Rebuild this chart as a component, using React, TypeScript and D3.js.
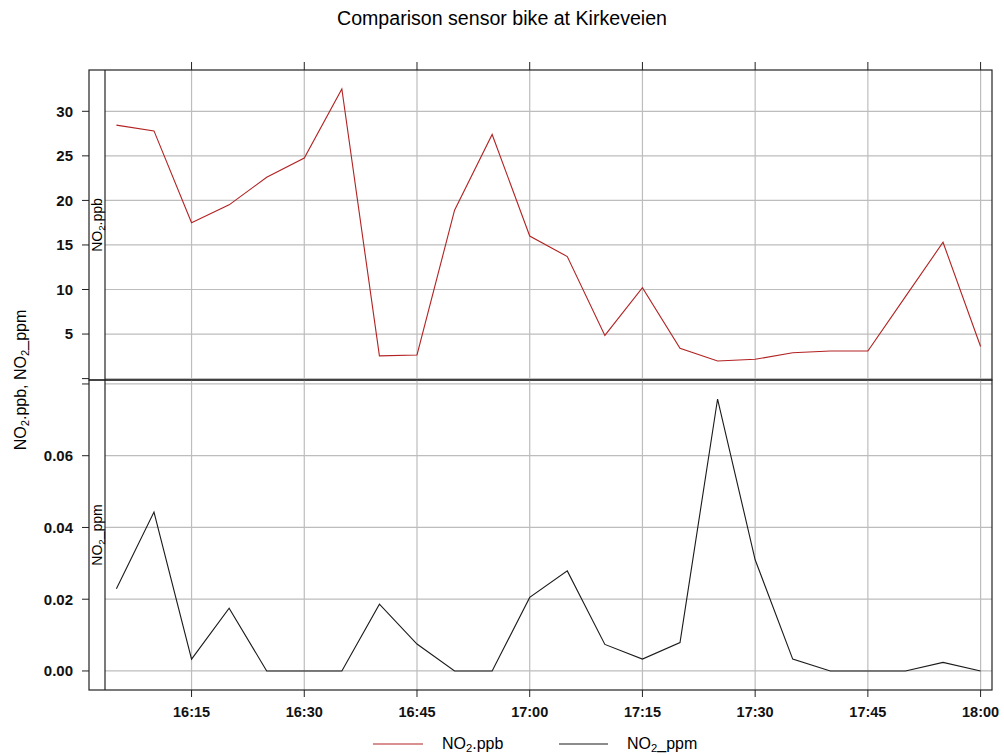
import React from "react";
import * as d3 from "d3";

// Five-minute readings, 16:05 to 18:00
const times = [
  "16:05", "16:10", "16:15", "16:20", "16:25", "16:30", "16:35", "16:40",
  "16:45", "16:50", "16:55", "17:00", "17:05", "17:10", "17:15", "17:20",
  "17:25", "17:30", "17:35", "17:40", "17:45", "17:50", "17:55", "18:00",
];
const no2Ppb = [
  28.45, 27.8, 17.5, 19.5, 22.6, 24.75, 32.5, 2.55,
  2.65, 18.9, 27.4, 16.0, 13.7, 4.85, 10.2, 3.4,
  1.98, 2.17, 2.9, 3.1, 3.1, 9.2, 15.3, 3.6,
];
const no2Ppm = [
  0.0229, 0.0443, 0.0033, 0.0175, 0.0, 0.0, 0.0, 0.0186,
  0.0075, 0.0, 0.0, 0.0205, 0.0279, 0.0074, 0.0033, 0.0079,
  0.0758, 0.031, 0.0033, 0.0, 0.0, 0.0, 0.0024, 0.0,
];
const ppbTicks = [0, 5, 10, 15, 20, 25, 30];
const ppbLabelled = [5, 10, 15, 20, 25, 30];
const ppmTicks = [0, 0.02, 0.04, 0.06, 0.08];
const ppmLabelled = [0, 0.02, 0.04, 0.06];
const xTickTimes = ["16:15", "16:30", "16:45", "17:00", "17:15", "17:30", "17:45", "18:00"];

const title = "Comparison sensor bike at Kirkeveien";
const seriesColors = { ppb: "#b22222", ppm: "#1a1a1a" };

const toDate = (hm: string) => {
  const [h, m] = hm.split(":").map(Number);
  return new Date(Date.UTC(2020, 0, 1, h, m));
};

const FONT = "'Liberation Sans', Arial, sans-serif";

// Chemical-formula label with a subscript 2
function NO2Label({ suffix }: { suffix: string }) {
  return (
    <>
      <tspan>NO</tspan>
      <tspan fontSize="0.7em" dy="0.3em">2</tspan>
      <tspan dy="-0.21em">{suffix}</tspan>
    </>
  );
}

export default function App() {
  const W = 1004, H = 756;
  const frameLeft = 89, stripRight = 105, right = 992;
  const top = 70, mid = 380, bottom = 690;

  const dates = times.map(toDate);
  const [t0, t1] = d3.extent(dates) as [Date, Date];
  const span = +t1 - +t0;
  const xPad = span * 0.0132;
  const x = d3.scaleUtc()
    .domain([new Date(+t0 - xPad), new Date(+t1 + xPad)])
    .range([stripRight, right]);

  // lattice-style 7% extension of the data range
  const padded = (vals: number[]) => {
    const [lo, hi] = d3.extent(vals) as [number, number];
    const p = (hi - lo) * 0.07;
    return [lo - p, hi + p];
  };
  const yPpb = d3.scaleLinear().domain(padded(no2Ppb)).range([mid, top]);
  const yPpm = d3.scaleLinear().domain(padded(no2Ppm)).range([bottom, mid]);

  const linePpb = d3.line<number>().x((_, i) => x(dates[i])).y((v) => yPpb(v));
  const linePpm = d3.line<number>().x((_, i) => x(dates[i])).y((v) => yPpm(v));

  const xTicks = xTickTimes.map(toDate);
  const fmt = d3.utcFormat("%H:%M");
  const grid = "#bdbdbd";
  const frame = "#222";

  const panels = [
    { y: yPpb, ticks: ppbTicks, labelled: ppbLabelled, fmt: (v: number) => String(v), y0: top, y1: mid, path: linePpb(no2Ppb), color: seriesColors.ppb, strip: ".ppb" },
    { y: yPpm, ticks: ppmTicks, labelled: ppmLabelled, fmt: d3.format(".2f"), y0: mid, y1: bottom, path: linePpm(no2Ppm), color: seriesColors.ppm, strip: "_ppm" },
  ];

  return (
    <svg width={W} height={H} style={{ position: "absolute", left: 0, top: 0, background: "#fff" }} fontFamily={FONT}>
      <text x={502} y={25} textAnchor="middle" fontSize={19.6}>{title}</text>

      {panels.map((p, k) => (
        <g key={k}>
          {/* grid */}
          {p.ticks.map((t) => {
            const yy = p.y(t);
            if (yy < p.y0 || yy > p.y1) return null;
            return <line key={t} x1={stripRight} x2={right} y1={yy} y2={yy} stroke={grid} strokeWidth={1.2} />;
          })}
          {xTicks.map((d, i) => (
            <line key={i} x1={x(d)} x2={x(d)} y1={p.y0} y2={p.y1} stroke={grid} strokeWidth={1.2} />
          ))}
          <path d={p.path ?? ""} fill="none" stroke={p.color} strokeWidth={1.1} />
          {/* left ticks and labels */}
          {p.ticks.map((t) => (
            <line key={"t" + t} x1={frameLeft - 7} x2={frameLeft} y1={p.y(t)} y2={p.y(t)} stroke={frame} strokeWidth={1} />
          ))}
          {p.labelled.map((t) => (
            <text key={"l" + t} x={73} y={p.y(t)} dy="0.36em" textAnchor="end" fontSize={15} fontWeight="bold" fill="#111">
              {p.fmt(t)}
            </text>
          ))}
          {/* strip */}
          <rect x={frameLeft} y={p.y0} width={right - frameLeft} height={p.y1 - p.y0} fill="none" stroke={frame} strokeWidth={1.2} />
          <line x1={stripRight} x2={stripRight} y1={p.y0} y2={p.y1} stroke={frame} strokeWidth={1.2} />
          <text transform={`translate(${(frameLeft + stripRight) / 2 + 5},${(p.y0 + p.y1) / 2}) rotate(-90)`} textAnchor="middle" fontSize={14}>
            <NO2Label suffix={p.strip} />
          </text>
        </g>
      ))}

      {/* top and bottom time ticks */}
      {xTicks.map((d, i) => (
        <g key={i}>
          <line x1={x(d)} x2={x(d)} y1={top - 8} y2={top} stroke={frame} strokeWidth={1} />
          <line x1={x(d)} x2={x(d)} y1={bottom} y2={bottom + 7} stroke={frame} strokeWidth={1} />
          <text x={x(d)} y={717} textAnchor="middle" fontSize={14.5} fontWeight="bold" fill="#111">{fmt(d)}</text>
        </g>
      ))}

      {/* y axis title */}
      <text transform={`translate(26,${(top + bottom) / 2}) rotate(-90)`} textAnchor="middle" fontSize={16}>
        <NO2Label suffix=".ppb, " />
        <tspan>NO</tspan>
        <tspan fontSize="0.7em" dy="0.3em">2</tspan>
        <tspan dy="-0.21em">_ppm</tspan>
      </text>

      {/* legend */}
      <line x1={373} x2={423} y1={744} y2={744} stroke={seriesColors.ppb} strokeWidth={1.2} />
      <text x={442} y={749} fontSize={16}><NO2Label suffix=".ppb" /></text>
      <line x1={559} x2={608} y1={744} y2={744} stroke={seriesColors.ppm} strokeWidth={1.2} />
      <text x={627} y={749} fontSize={16}><NO2Label suffix="_ppm" /></text>
    </svg>
  );
}
